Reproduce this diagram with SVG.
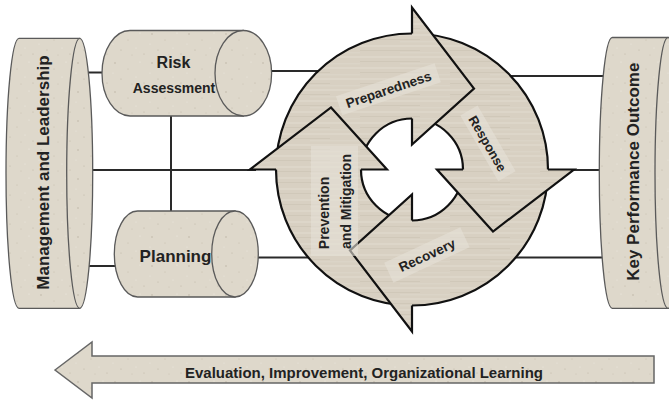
<svg xmlns="http://www.w3.org/2000/svg" width="669" height="400" viewBox="0 0 669 400">
<defs>
<pattern id="sand" width="37" height="29" patternUnits="userSpaceOnUse">
<rect width="37" height="29" fill="#ded8cb"/>
<circle cx="4" cy="5" r="0.7" fill="#b8af9e"/>
<circle cx="17" cy="11" r="0.5" fill="#c2b9a8"/>
<circle cx="29" cy="4" r="0.6" fill="#efebe3"/>
<circle cx="10" cy="21" r="0.6" fill="#bfb6a5"/>
<circle cx="25" cy="19" r="0.5" fill="#f0ece4"/>
<circle cx="33" cy="25" r="0.6" fill="#c0b7a6"/>
<circle cx="21" cy="26" r="0.4" fill="#b5ac9b"/>
<circle cx="2" cy="15" r="0.5" fill="#eeeae1"/>
</pattern>
<pattern id="wood" width="90" height="11" patternUnits="userSpaceOnUse">
<rect width="90" height="11" fill="#d8d0c2"/>
<rect y="1" width="90" height="2" fill="#ddd6c9"/>
<rect y="6" width="60" height="1" fill="#d0c8b9"/>
<rect x="40" y="8" width="50" height="1.5" fill="#dbd4c7"/>
</pattern>
<style>
.cyl{fill:url(#sand);stroke:#5a5a5a;stroke-width:1.3}
.conn{stroke:#2a2a2a;stroke-width:2;fill:none}
.ring{fill:url(#wood);fill-rule:evenodd;stroke:#111;stroke-width:2.2}
.hf{fill:url(#wood);stroke:none}
.hl{fill:none;stroke:#111;stroke-width:2.2;stroke-linejoin:miter}
.lbl{font-family:"Liberation Sans",Arial,sans-serif;font-weight:bold;fill:#222}
.tag{fill:#e6e1d7;opacity:.6}
</style>
</defs>
<rect width="669" height="400" fill="#ffffff"/>

<g id="connectors">
<line class="conn" x1="85" y1="72.5" x2="110" y2="72.5"/>
<line class="conn" x1="255" y1="71" x2="330" y2="71"/>
<line class="conn" x1="85" y1="170" x2="256" y2="170"/>
<line class="conn" x1="171" y1="110" x2="171" y2="215"/>
<line class="conn" x1="85" y1="266" x2="120" y2="266"/>
<line class="conn" x1="245" y1="257.5" x2="320" y2="257.5"/>
<line class="conn" x1="500" y1="76" x2="606" y2="76"/>
<line class="conn" x1="565" y1="170" x2="606" y2="170"/>
<line class="conn" x1="505" y1="257.5" x2="606" y2="257.5"/>
</g>

<g id="management-leadership">
<path class="cyl" d="M19,38.3 H79.7 V308.3 H19 A13,135 0 0 1 19,38.3 Z"/>
<ellipse class="cyl" cx="79.7" cy="173.3" rx="13" ry="135"/>
<text class="lbl" transform="translate(48.5,172.5) rotate(-90)" text-anchor="middle" font-size="17">Management and Leadership</text>
</g>

<g id="risk-assessment">
<path class="cyl" d="M130,30.5 H243.3 V116 H130 A28,42.75 0 0 1 130,30.5 Z"/>
<ellipse class="cyl" cx="243.3" cy="73.25" rx="28.3" ry="42.75"/>
<text class="lbl" x="173.5" y="68" text-anchor="middle" font-size="16">Risk</text>
<text class="lbl" x="174" y="92.5" text-anchor="middle" font-size="14">Assessment</text>
</g>

<g id="planning">
<path class="cyl" d="M137.6,211 H235 V297 H137.6 A23.3,43 0 0 1 137.6,211 Z"/>
<ellipse class="cyl" cx="235" cy="254" rx="23.3" ry="43"/>
<text class="lbl" x="175.5" y="262" text-anchor="middle" font-size="17">Planning</text>
</g>

<g id="key-performance-outcome">
<path class="cyl" d="M612.3,37.5 H668 V308.3 H612.3 A13,135.4 0 0 1 612.3,37.5 Z"/>
<ellipse class="cyl" cx="668" cy="172.9" rx="13" ry="135.4"/>
<text class="lbl" transform="translate(639,171.7) rotate(-90)" text-anchor="middle" font-size="17">Key Performance Outcome</text>
</g>

<g id="cycle-ring">
<path class="ring" d="M276,169.5 A136,136 0 1 1 548,169.5 A136,136 0 1 1 276,169.5 Z M361,169.5 A51,51 0 1 0 463,169.5 A51,51 0 1 0 361,169.5 Z"/>
</g>

<g id="preparedness">
<path class="hf" d="M412,7.5 L474,88.5 L412,144.5 Z"/>
<path class="hl" d="M412,33.5 L412,7.5 L474,88.5 L412,144.5 L412,118.5"/>
<g transform="translate(390,94) rotate(-18.5)">
<rect class="tag" x="-52" y="-15" width="104" height="20"/>
<text class="lbl" x="0" y="0" text-anchor="middle" font-size="13.5">Preparedness</text>
</g>
</g>

<g id="response">
<path class="hf" d="M574,169.5 L493,231.5 L437,169.5 Z"/>
<path class="hl" d="M548,169.5 L574,169.5 L493,231.5 L437,169.5 L463,169.5"/>
<g transform="translate(483.6,145.8) rotate(60)">
<rect class="tag" x="-38" y="-15" width="76" height="20"/>
<text class="lbl" x="0" y="0" text-anchor="middle" font-size="13">Response</text>
</g>
</g>

<g id="recovery">
<path class="hf" d="M412,331.5 L350,250.5 L412,194.5 Z"/>
<path class="hl" d="M412,305.5 L412,331.5 L350,250.5 L412,194.5 L412,220.5"/>
<g transform="translate(429,259.5) rotate(-25)">
<rect class="tag" x="-42" y="-16" width="84" height="22"/>
<text class="lbl" x="0" y="0" text-anchor="middle" font-size="13.5">Recovery</text>
</g>
</g>

<g id="prevention-mitigation">
<path class="hf" d="M250,169.5 L331,107.5 L387,169.5 Z"/>
<path class="hl" d="M276,169.5 L250,169.5 L331,107.5 L387,169.5 L361,169.5"/>
<rect class="tag" x="311" y="146" width="47" height="110"/>
<text class="lbl" transform="translate(329,213) rotate(-90)" text-anchor="middle" font-size="14">Prevention</text>
<text class="lbl" transform="translate(351,201.5) rotate(-90)" text-anchor="middle" font-size="14">and Mitigation</text>
</g>

<g id="evaluation">
<polygon points="55,370 92,342 92,356 654,356 654,383 92,383 92,398" fill="url(#sand)" stroke="#666" stroke-width="1.5"/>
<text class="lbl" x="364" y="378" text-anchor="middle" font-size="15" textLength="358" lengthAdjust="spacingAndGlyphs">Evaluation, Improvement, Organizational Learning</text>
</g>
</svg>
